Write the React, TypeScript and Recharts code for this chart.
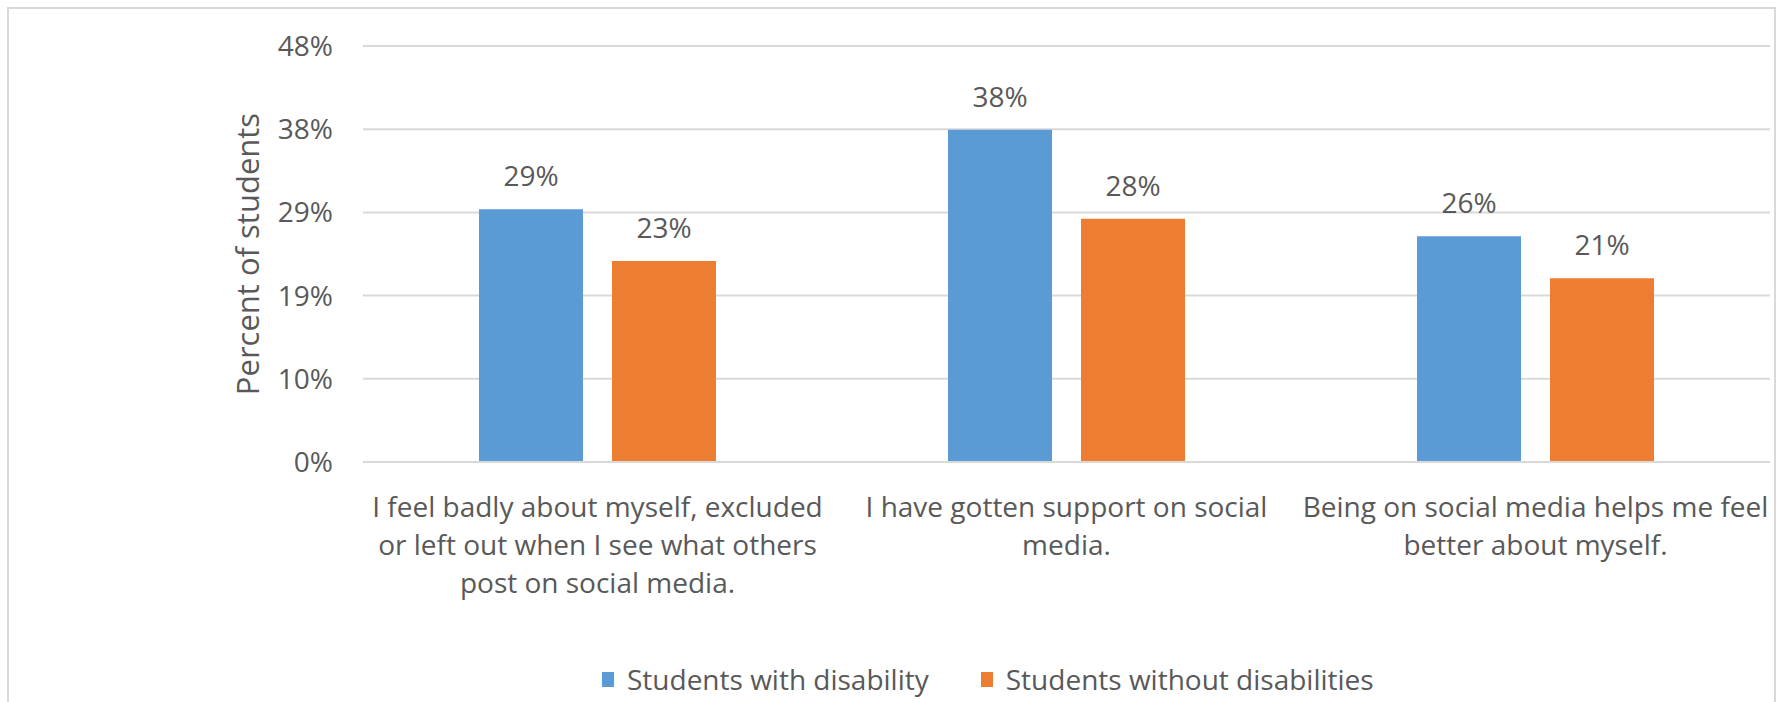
import React from "react";
import { BarChart, Bar, XAxis, YAxis, CartesianGrid, LabelList } from "recharts";

const categories = [
  "I feel badly about myself, excluded or left out when I see what others post on social media.",
  "I have gotten support on social media.",
  "Being on social media helps me feel better about myself.",
];
const categoryLines = [
  ["I feel badly about myself, excluded", "or left out when I see what others", "post on social media."],
  ["I have gotten support on social", "media."],
  ["Being on social media helps me feel", "better about myself."],
];
const withDisability = [29.15, 38.33, 26.04];
const withoutDisabilities = [23.2, 28.08, 21.2];
const yTicks = [0, 9.6, 19.2, 28.8, 38.4, 48];
const seriesNames = ["Students with disability", "Students without disabilities"];
const seriesColors = ["#5B9BD5", "#ED7D31"];
const yTitle = "Percent of students";

const data = categories.map((c, i) => ({
  name: c,
  a: withDisability[i],
  b: withoutDisabilities[i],
}));

const FONT = "'Open Sans', sans-serif";
const TEXT = "#595959";
const GRID = "#D9D9D9";

const pct = (v: any) => `${Math.round(Number(v))}%`;

const CategoryTick = (props: any) => {
  const { x, y, payload } = props;
  const idx = categories.indexOf(payload.value);
  const lines = idx >= 0 ? categoryLines[idx] : [String(payload.value)];
  return (
    <text x={x} y={y} textAnchor="middle" fill={TEXT} fontSize={28} fontFamily={FONT}>
      {lines.map((l, i) => (
        <tspan key={i} x={x} dy={i === 0 ? 47 : 38}>
          {l}
        </tspan>
      ))}
    </text>
  );
};

const YTitle = (props: any) => {
  const vb = props.viewBox || { x: 0, y: 0, width: 0, height: 0 };
  const cx = vb.x + 259;
  const cy = vb.y + vb.height / 2;
  return (
    <text
      x={cx}
      y={cy}
      transform={`rotate(-90, ${cx}, ${cy})`}
      textAnchor="middle"
      fill={TEXT}
      fontSize={31}
      fontFamily={FONT}
    >
      {yTitle}
    </text>
  );
};

export default function App() {
  return (
    <div
      style={{
        position: "absolute",
        left: 0,
        top: 0,
        width: 1777,
        height: 702,
        overflow: "hidden",
        background: "#fff",
        fontFamily: FONT,
      }}
    >
      <div
        style={{
          position: "absolute",
          left: 7,
          top: 7,
          width: 1769,
          height: 800,
          boxSizing: "border-box",
          border: `2px solid ${GRID}`,
        }}
      />
      <div style={{ position: "absolute", left: 0, top: 0 }}>
        <BarChart
          width={1777}
          height={702}
          data={data}
          margin={{ top: 46, right: 7, bottom: 0, left: 0 }}
          barSize={104}
          barGap={29}
        >
          <CartesianGrid vertical={false} stroke={GRID} strokeWidth={2} />
          <XAxis
            dataKey="name"
            height={240}
            axisLine={{ stroke: GRID, strokeWidth: 2 }}
            tickLine={false}
            interval={0}
            tick={<CategoryTick />}
          />
          <YAxis
            width={363}
            domain={[0, 48]}
            ticks={yTicks}
            tickFormatter={pct}
            axisLine={false}
            tickLine={false}
            tickMargin={24}
            tick={{ fill: TEXT, fontSize: 28, fontFamily: FONT }}
            label={<YTitle />}
          />
          <Bar dataKey="a" name={seriesNames[0]} fill={seriesColors[0]} isAnimationActive={false}>
            <LabelList
              dataKey="a"
              position="top"
              offset={23}
              formatter={pct}
              fill={TEXT}
              fontSize={28}
              fontFamily={FONT}
            />
          </Bar>
          <Bar dataKey="b" name={seriesNames[1]} fill={seriesColors[1]} isAnimationActive={false}>
            <LabelList
              dataKey="b"
              position="top"
              offset={23}
              formatter={pct}
              fill={TEXT}
              fontSize={28}
              fontFamily={FONT}
            />
          </Bar>
        </BarChart>
      </div>
      <div
        style={{
          position: "absolute",
          left: 602,
          top: 664,
          display: "flex",
          alignItems: "center",
          fontSize: 28,
          lineHeight: "30px",
          color: TEXT,
          fontFamily: FONT,
          whiteSpace: "nowrap",
        }}
      >
        {seriesNames.map((n, i) => (
          <div key={n} style={{ display: "flex", alignItems: "center", marginRight: 52 }}>
            <span
              style={{
                display: "inline-block",
                width: 12,
                height: 15,
                background: seriesColors[i],
                marginRight: 13,
              }}
            />
            <span>{n}</span>
          </div>
        ))}
      </div>
    </div>
  );
}
